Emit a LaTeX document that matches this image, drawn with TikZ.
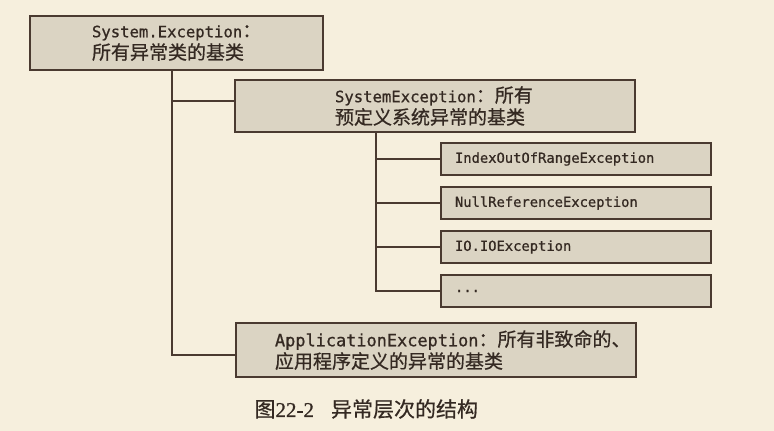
\documentclass[tikz,border=0pt]{standalone}
\usepackage{fontspec}
\setmainfont[FakeBold=0.8]{Liberation Serif}
\setmonofont[FakeBold=0.8]{DejaVu Sans Mono}
\newfontfamily\cjkfont[FakeBold=0.6]{Noto Sans CJK SC}
\usetikzlibrary{positioning}
\definecolor{paper}{HTML}{F6EFDD}
\definecolor{boxgray}{HTML}{DBD4C3}
\definecolor{ink}{HTML}{4A3A30}
\newcommand{\zh}[1]{{\cjkfont\fontsize{19}{22}\selectfont #1}}

\begin{document}
\begin{tikzpicture}[x=1pt,y=-1pt,
  exbox/.style={draw=ink,line width=2pt,fill=boxgray,text=ink!70!black,align=left,inner ysep=0pt,font=\fontsize{15.6}{22}\selectfont\ttfamily},
  leaf/.style={exbox,text width=242pt,inner xsep=14pt,minimum height=31.5pt,font=\fontsize{13.8}{18}\selectfont\ttfamily},
  link/.style={draw=ink,line width=1.6pt}]
  \path[use as bounding box,fill=paper] (0,0) rectangle (774,431);
  %root
  \node (exc) [exbox,text width=169pt,inner xsep=62pt,minimum height=54pt] at (176.5,43) {System.Exception\zh{：}\\\zh{所有异常类的基类}};
  %system exceptions
  \node (sys) [exbox,text width=200pt,inner xsep=100pt,minimum height=52pt] at (435,106) {SystemException\zh{：所有}\\\zh{预定义系统异常的基类}};
  \node (idx) [leaf] at (576,159) {IndexOutOfRangeException};
  \node (nul) [leaf,below=10.5pt of idx] {NullReferenceException};
  \node (io) [leaf,below=10.5pt of nul] {IO.IOException};
  \node (dots) [leaf,below=10.5pt of io] {...};
  %application exceptions
  \node (app) [exbox,text width=322pt,inner xsep=39pt,minimum height=54pt,font=\fontsize{16.9}{22}\selectfont\ttfamily] at (436,350) {ApplicationException\zh{：所有非致命的、}\\\zh{应用程序定义的异常的基类}};
  %tree lines
  \coordinate (trunkA) at (172,70);
  \coordinate (trunkB) at (376,132);
  \draw[link] (trunkA) |- ([yshift=-5pt]app.west);
  \draw[link] ([yshift=5pt]sys.west) -| (trunkA);
  \draw[link] (trunkB) |- (dots.west);
  \foreach \leafname in {idx,nul,io}
    \draw[link] (\leafname.west) -| (trunkB);
  %caption
  \node (cap) [anchor=west,text=ink!70!black,font=\fontsize{21}{24}\selectfont\cjkfont] at (251,409) {图{\rmfamily 22-2}\hspace{17pt}异常层次的结构};
\end{tikzpicture}
\end{document}
